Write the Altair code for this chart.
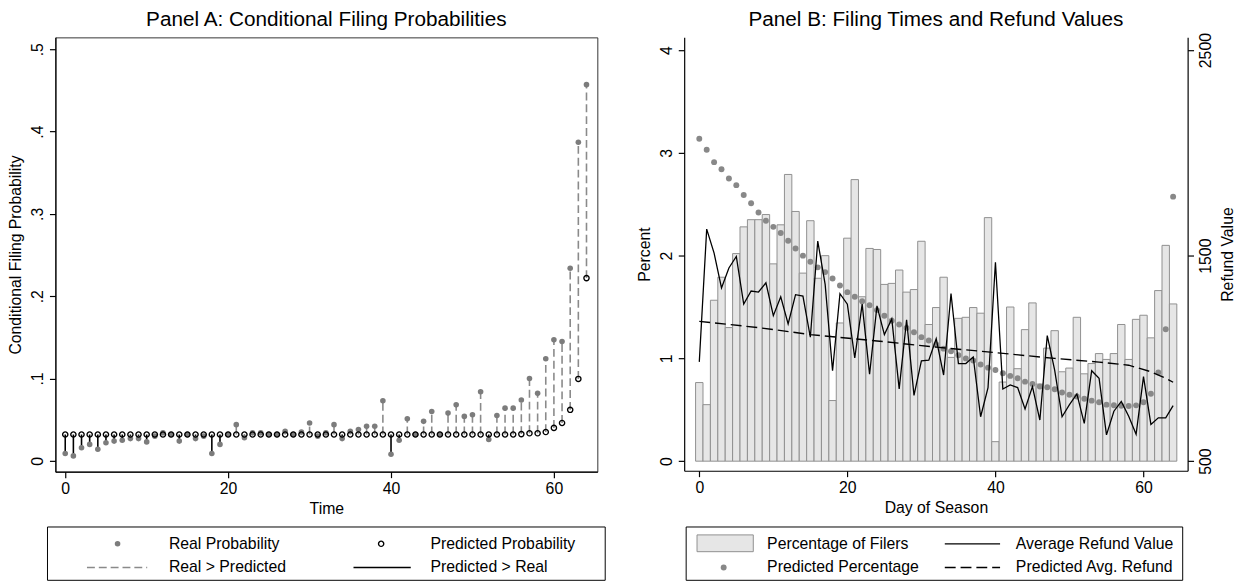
import altair as alt
import pandas as pd

FONT = "Liberation Sans"

# ---------------- Panel A data ----------------
time_a = list(range(65))
real_prob = [0.009, 0.006, 0.016, 0.020, 0.014, 0.022, 0.024, 0.025, 0.027, 0.027,
             0.023, 0.030, 0.034, 0.032, 0.024, 0.032, 0.027, 0.030, 0.009, 0.020,
             0.032, 0.044, 0.028, 0.034, 0.034, 0.032, 0.032, 0.036, 0.032, 0.035,
             0.046, 0.030, 0.034, 0.044, 0.027, 0.036, 0.038, 0.042, 0.042, 0.073,
             0.008, 0.025, 0.051, 0.032, 0.048, 0.060, 0.032, 0.058, 0.068, 0.054,
             0.056, 0.084, 0.026, 0.055, 0.064, 0.064, 0.074, 0.100, 0.082, 0.124,
             0.147, 0.145, 0.234, 0.387, 0.457]
pred_prob = [0.032, 0.032, 0.032, 0.032, 0.032, 0.032, 0.032, 0.032, 0.032, 0.032,
             0.032, 0.032, 0.032, 0.032, 0.032, 0.032, 0.032, 0.032, 0.032, 0.032,
             0.032, 0.032, 0.032, 0.032, 0.032, 0.032, 0.032, 0.032, 0.032, 0.032,
             0.032, 0.032, 0.032, 0.032, 0.032, 0.032, 0.032, 0.032, 0.032, 0.032,
             0.032, 0.032, 0.032, 0.032, 0.032, 0.032, 0.032, 0.032, 0.032, 0.032,
             0.032, 0.032, 0.032, 0.032, 0.032, 0.032, 0.0325, 0.0335, 0.0335, 0.035,
             0.040, 0.046, 0.062, 0.0995, 0.222]

# ---------------- Panel B data ----------------
days_b = list(range(65))
pct_filers = [0.765, 0.55, 1.566, 1.79, 1.30, 2.02, 2.28, 2.35, 2.35, 2.40,
              1.92, 2.30, 2.79, 2.43, 1.83, 2.34, 1.78, 2.00, 0.59, 1.345,
              2.17, 2.74, 1.60, 2.07, 2.06, 1.72, 1.73, 1.86, 1.645, 1.67,
              2.14, 1.33, 1.495, 1.79, 1.01, 1.39, 1.40, 1.495, 1.44, 2.37,
              0.19, 0.77, 1.50, 0.90, 1.28, 1.54, 0.75, 1.10, 1.27, 0.87,
              0.906, 1.40, 0.85, 0.95, 1.047, 0.99, 1.047, 1.33, 0.99, 1.38,
              1.42, 1.20, 1.66, 2.10, 1.53]
pred_pct = [3.137, 3.03, 2.91, 2.84, 2.75, 2.686, 2.59, 2.51, 2.42, 2.34,
            2.28, 2.22, 2.145, 2.07, 2.00, 1.94, 1.886, 1.84, 1.777, 1.71,
            1.645, 1.60, 1.556, 1.517, 1.47, 1.415, 1.367, 1.33, 1.297, 1.255,
            1.207, 1.175, 1.136, 1.095, 1.07, 1.03, 1.00, 0.98, 0.94, 0.91,
            0.887, 0.855, 0.83, 0.807, 0.774, 0.752, 0.726, 0.72, 0.70, 0.669,
            0.647, 0.63, 0.608, 0.589, 0.573, 0.55, 0.545, 0.54, 0.537, 0.543,
            0.573, 0.656, 0.864, 1.283, 2.574]
avg_refund = [983, 1629, 1512, 1343, 1440, 1496, 1264, 1328, 1323, 1368,
              1208, 1300, 1168, 1310, 1303, 1103, 1571, 1360, 940, 1315,
              1264, 1002, 1264, 923, 1256, 1116, 1192, 852, 1188, 820,
              988, 991, 1096, 919, 1316, 975, 975, 1007, 716, 858,
              1468, 851, 871, 858, 754, 863, 700, 1111, 943, 716,
              775, 827, 684, 940, 903, 628, 743, 791, 719, 631,
              911, 679, 711, 711, 770]
pred_refund_days = [0, 8, 15, 24, 32, 40, 48, 54, 58, 61, 63, 64]
pred_refund = [1180, 1150, 1116, 1085, 1055, 1028, 1000, 982, 967, 935, 903, 884]

# ---------------- tables ----------------
dfa = pd.DataFrame({"t": time_a, "real": real_prob, "pred": pred_prob})
dfa_up = dfa[dfa.real > dfa.pred]
dfa_dn = dfa[dfa.real < dfa.pred]

dfb = pd.DataFrame({"day": days_b, "pct": pct_filers, "ppct": pred_pct, "refund": avg_refund})
dfr = pd.DataFrame({"day": pred_refund_days, "prefund": pred_refund})
dummy = pd.DataFrame({"k": [0]})

FS = 16
GREY_PT = "#7c7c7c"
# ---------------- common styles ----------------
AX = dict(grid=False, domainColor="black", tickColor="black", labelColor="black",
          titleColor="black", labelFontSize=FS, titleFontSize=FS, titleFontWeight="normal",
          tickSize=6, labelFont=FONT, titleFont=FONT, domainWidth=1.2, tickWidth=1.2)


def ltext(s, x, y):
    return alt.Chart(dummy).mark_text(text=s, align="left", baseline="middle", fontSize=FS,
                                      font=FONT, color="black").encode(x=alt.value(x), y=alt.value(y))


def lbox(x1, x2, y1, y2):
    return alt.Chart(dummy).mark_rect(fill="transparent", stroke="black", strokeWidth=1).encode(
        x=alt.value(x1), x2=alt.value(x2), y=alt.value(y1), y2=alt.value(y2))


# ---------------- Panel A ----------------
xa = alt.Scale(domain=[-1.21, 65.33], nice=False, zero=False)
ya = alt.Scale(domain=[-0.0132, 0.5144], nice=False, zero=False)
xaxA = alt.Axis(values=[0, 20, 40, 60], title="Time", labelPadding=3, titlePadding=4, **AX)
yaxA = alt.Axis(values=[0, 0.1, 0.2, 0.3, 0.4, 0.5], title="Conditional Filing Probability",
                labelAngle=270, labelAlign="center", labelBaseline="bottom", labelPadding=4,
                titlePadding=6,
                labelExpr="datum.value == 0 ? '0' : replace(format(datum.value, '.1f'), '0.', '.')",
                **AX)

XA = alt.X("t:Q", scale=xa, axis=xaxA)
up = alt.Chart(dfa_up).mark_rule(stroke="#8a8a8a", strokeDash=[8, 4], strokeWidth=1.6).encode(
    x=XA, y=alt.Y("pred:Q", scale=ya, axis=yaxA), y2="real:Q")
dn = alt.Chart(dfa_dn).mark_rule(stroke="black", strokeWidth=1.6).encode(
    x=XA, y=alt.Y("pred:Q", scale=ya, axis=yaxA), y2="real:Q")
realpts = alt.Chart(dfa).mark_circle(color=GREY_PT, size=32, opacity=1).encode(
    x=XA, y=alt.Y("real:Q", scale=ya, axis=yaxA))
predpts = alt.Chart(dfa).mark_point(shape="circle", filled=False, stroke="black", strokeWidth=1.4,
                                    size=28, opacity=1).encode(
    x=XA, y=alt.Y("pred:Q", scale=ya, axis=yaxA))

# legend A (positions relative to plot origin)
LA_r1, LA_r2 = 513, 537
legA = [
    lbox(-8, 557, 496, 550),
    alt.Chart(dummy).mark_circle(color=GREY_PT, size=32, opacity=1).encode(
        x=alt.value(63), y=alt.value(LA_r1)),
    ltext("Real Probability", 115, LA_r1),
    alt.Chart(dummy).mark_point(shape="circle", filled=False, stroke="black", strokeWidth=1.4,
                                size=28, opacity=1).encode(x=alt.value(330), y=alt.value(LA_r1)),
    ltext("Predicted Probability", 380, LA_r1),
    alt.Chart(dummy).mark_rule(stroke="#8a8a8a", strokeDash=[8, 4], strokeWidth=1.6).encode(
        x=alt.value(32), x2=alt.value(93), y=alt.value(LA_r2)),
    ltext("Real > Predicted", 115, LA_r2),
    alt.Chart(dummy).mark_rule(stroke="black", strokeWidth=1.6).encode(
        x=alt.value(302), x2=alt.value(360), y=alt.value(LA_r2)),
    ltext("Predicted > Real", 380, LA_r2),
]

panelA = alt.layer(up, dn, realpts, predpts, *legA).properties(
    width=549, height=440,
    title=alt.TitleParams("Panel A: Conditional Filing Probabilities", fontSize=21, font=FONT,
                          fontWeight="normal", color="black", anchor="middle", offset=8),
    view=alt.ViewBackground(stroke="#333333", strokeWidth=1),
)

# ---------------- Panel B ----------------
xb = alt.Scale(domain=[-2.04, 65.96], nice=False, zero=False)
yb = alt.Scale(domain=[-0.093, 4.124], nice=False, zero=False)
yr = alt.Scale(domain=[453.5, 2562], nice=False, zero=False)
xaxB = alt.Axis(values=[0, 20, 40, 60], title="Day of Season", labelPadding=3, titlePadding=4, **AX)
yaxB = alt.Axis(values=[0, 1, 2, 3, 4], title="Percent", labelAngle=270, labelAlign="center",
                labelBaseline="bottom", labelPadding=4, titlePadding=6, **AX)
yaxR = alt.Axis(values=[500, 1500, 2500], title="Refund Value", orient="right", labelAngle=270,
                labelAlign="center", labelBaseline="top", labelPadding=4, titleAngle=270,
                titleBaseline="top", titlePadding=6, format="d", **AX)

bars = alt.Chart(dfb).transform_calculate(lo="datum.day - 0.5", hi="datum.day + 0.5").mark_bar(
    fill="#e6e6e6", stroke="#8f8f8f", strokeWidth=1).encode(
    x=alt.X("lo:Q", scale=xb, axis=xaxB), x2="hi:Q",
    y=alt.Y("pct:Q", scale=yb, axis=yaxB), y2=alt.datum(0))
dots = alt.Chart(dfb).mark_circle(color="#888888", size=36, opacity=1).encode(
    x=alt.X("day:Q", scale=xb, axis=xaxB), y=alt.Y("ppct:Q", scale=yb, axis=yaxB))
refline = alt.Chart(dfb).mark_line(color="black", strokeWidth=1.3).encode(
    x=alt.X("day:Q", scale=xb, axis=xaxB), y=alt.Y("refund:Q", scale=yr, axis=yaxR))
predline = alt.Chart(dfr).mark_line(color="black", strokeWidth=1.4, strokeDash=[11, 5]).encode(
    x=alt.X("day:Q", scale=xb, axis=xaxB), y=alt.Y("prefund:Q", scale=yr, axis=yaxR))

LB_r1, LB_r2 = 513, 537
legB = [
    lbox(2, 505, 496, 550),
    alt.Chart(dummy).mark_rect(fill="#e6e6e6", stroke="#8f8f8f", strokeWidth=1).encode(
        x=alt.value(13), x2=alt.value(70), y=alt.value(504), y2=alt.value(521)),
    ltext("Percentage of Filers", 84, LB_r1),
    alt.Chart(dummy).mark_rule(stroke="black", strokeWidth=1.3).encode(
        x=alt.value(264), x2=alt.value(320), y=alt.value(LB_r1)),
    ltext("Average Refund Value", 336, LB_r1),
    alt.Chart(dummy).mark_circle(color="#888888", size=36, opacity=1).encode(
        x=alt.value(40), y=alt.value(LB_r2)),
    ltext("Predicted Percentage", 84, LB_r2),
    alt.Chart(dummy).mark_rule(stroke="black", strokeWidth=1.4, strokeDash=[11, 5]).encode(
        x=alt.value(264), x2=alt.value(320), y=alt.value(LB_r2)),
    ltext("Predicted Avg. Refund", 336, LB_r2),
]

panelB = alt.layer(alt.layer(bars, dots), alt.layer(refline, predline), *legB).resolve_scale(
    y="independent").properties(
    width=510, height=439,
    title=alt.TitleParams("Panel B: Filing Times and Refund Values", fontSize=21, font=FONT,
                          fontWeight="normal", color="black", anchor="middle", offset=3),
    view=alt.ViewBackground(stroke="transparent"),
)

chart = alt.hconcat(panelA, panelB, spacing=30).properties(
    padding={"left": -1, "top": -4, "right": 0, "bottom": 0}
).configure(font=FONT)

chart.save("out.html", embed_options={"renderer": "svg", "actions": False})
